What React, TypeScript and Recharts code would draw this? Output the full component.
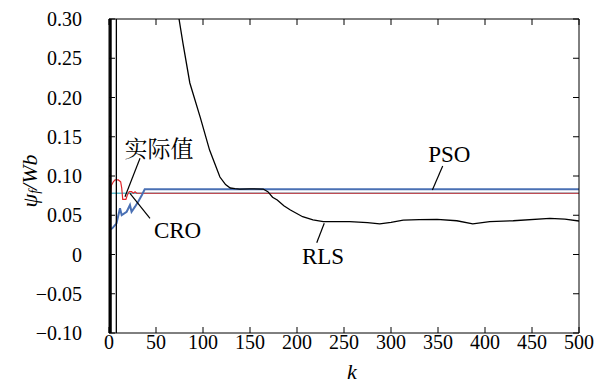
import React from 'react';
import { LineChart, Line, XAxis, YAxis, ReferenceLine, ReferenceDot } from 'recharts';

const FONT = 'Liberation Serif';
const CJK_FONT = 'Noto Serif CJK SC';

// tick values
const xTicks = [0, 50, 100, 150, 200, 250, 300, 350, 400, 450, 500];
const yTicks = [-0.1, -0.05, 0, 0.05, 0.1, 0.15, 0.2, 0.25, 0.3];

// 实际值 (actual value)
const actualK = [0, 500];
const actualV = [0.078, 0.078];

// PSO estimate
const psoK = [0, 3.5, 8, 11.7, 13.5, 18.8, 22.3, 24, 27.7, 31, 35, 38, 500];
const psoV = [0.031, 0.0334, 0.0397, 0.0589, 0.0503, 0.0545, 0.063, 0.0545, 0.0609, 0.0673, 0.0758, 0.0831, 0.0831];

// CRO estimate
const croK = [0, 0.8, 2.5, 4.6, 6.4, 9.9, 12.4, 13.5, 14.6, 18, 19.5, 21.6, 24, 25.9, 27.7, 29.5, 500];
const croV = [0.005, 0.065, 0.088, 0.0927, 0.095, 0.095, 0.0927, 0.085, 0.0703, 0.0703, 0.0758, 0.08, 0.08, 0.078, 0.08, 0.078, 0.078];

// RLS estimate
const rlsK = [0, 0.5, 1.0, 1.5, 2.0, 2.5, 7.6, 8.0, 20, 50, 74.5, 78.7, 86, 97, 107, 118, 124, 129, 134, 139, 150, 164, 169, 174, 179, 186, 193, 206, 217, 228, 256, 275, 288, 300, 313, 330, 349, 370, 387, 405, 430, 469, 485, 500];
const rlsV = [0.0, -1.5, 1.5, -1.5, 1.5, -1.5, -1.5, 1.5, 1.2, 0.6, 0.3, 0.269, 0.2185, 0.175, 0.133, 0.0987, 0.089, 0.0847, 0.0838, 0.0834, 0.0836, 0.0834, 0.08, 0.073, 0.0694, 0.062, 0.0567, 0.0481, 0.044, 0.0418, 0.0418, 0.0405, 0.0389, 0.041, 0.0439, 0.0445, 0.0448, 0.043, 0.0389, 0.0418, 0.043, 0.046, 0.045, 0.0427];

// annotation labels with leader lines (data coordinates)
const noteText = ['实际值', 'CRO', 'PSO', 'RLS'];
const noteFont = [CJK_FONT, FONT, FONT, FONT];
const noteAt = [[53.3, 0.1363], [72.9, 0.0312], [362, 0.128], [227.7, -0.002]];
const noteFrom = [[33, 0.1226], [43.6, 0.0461], [355, 0.1127], [229, 0.0397]];
const noteTo = [[17, 0.0736], [22.3, 0.078], [344, 0.0822], [221, 0.015]];

const toRows = (ks: number[], vs: number[]) => ks.map((k, i) => ({ k, v: vs[i] }));

const fmtY = (v: number) => (v === 0 ? '0' : (v < 0 ? '\u2212' : '') + Math.abs(v).toFixed(2));

const YLabel = (props: any) => {
  const vb = props.viewBox || {};
  const cx = vb.x + 29;
  const cy = vb.y + vb.height / 2 + 5;
  return (
    <text
      x={cx}
      y={cy}
      transform={`rotate(-90 ${cx} ${cy})`}
      textAnchor="middle"
      dominantBaseline="central"
      fontFamily={FONT}
      fontStyle="italic"
      fontSize={22}
      fill="#000"
    >
      <tspan>ψ</tspan>
      <tspan dy={5} fontSize={14}>f</tspan>
      <tspan dy={-5}>/Wb</tspan>
    </text>
  );
};

const NoteLabel = (props: any) => {
  const vb = props.viewBox || {};
  const cx = vb.x + (vb.width || 0) / 2;
  const cy = vb.y + (vb.height || 0) / 2;
  return (
    <text x={cx} y={cy} textAnchor="middle" dominantBaseline="central" fontFamily={props.font} fontSize={23} fill="#000">
      {props.value}
    </text>
  );
};

const emptyTick = () => <g />;

export default function App() {
  const tickStyle = { fill: '#000', fontSize: 20, fontFamily: FONT };
  return (
    <div style={{ position: 'absolute', left: 0, top: 0, background: '#fff' }}>
      <LineChart width={615} height={383} margin={{ top: 18, right: 35, bottom: 0, left: 0 }}>
        <XAxis
          xAxisId="b"
          type="number"
          dataKey="k"
          domain={[0, 500]}
          ticks={xTicks}
          interval={0}
          allowDataOverflow
          orientation="bottom"
          height={50}
          tickSize={-6}
          tickMargin={8}
          stroke="#000"
          tick={tickStyle}
          label={{ value: 'k', position: 'insideBottom', offset: 4, dx: 8, fill: '#000', fontSize: 22, fontStyle: 'italic', fontFamily: FONT }}
        />
        <XAxis
          xAxisId="t"
          type="number"
          dataKey="k"
          domain={[0, 500]}
          ticks={xTicks}
          interval={0}
          allowDataOverflow
          orientation="top"
          height={1}
          tickSize={-6}
          stroke="#000"
          tick={emptyTick}
        />
        <YAxis
          yAxisId="l"
          type="number"
          domain={[-0.1, 0.3]}
          ticks={yTicks}
          interval={0}
          allowDataOverflow
          width={109}
          tickSize={-6}
          tickMargin={33}
          stroke="#000"
          tick={tickStyle}
          tickFormatter={fmtY}
          label={<YLabel />}
        />
        <YAxis
          yAxisId="r"
          orientation="right"
          type="number"
          domain={[-0.1, 0.3]}
          ticks={yTicks}
          interval={0}
          allowDataOverflow
          width={1}
          tickSize={-6}
          stroke="#000"
          tick={emptyTick}
        />
        <Line xAxisId="b" yAxisId="l" data={toRows(actualK, actualV)} dataKey="v" stroke="#5fc0d2" strokeWidth={1.4} dot={false} isAnimationActive={false} type="linear" />
        <Line xAxisId="b" yAxisId="l" data={toRows(croK, croV)} dataKey="v" stroke="#e0262b" strokeWidth={1.2} dot={false} isAnimationActive={false} type="linear" />
        <Line xAxisId="b" yAxisId="l" data={toRows(psoK, psoV)} dataKey="v" stroke="#4a70b4" strokeWidth={2} dot={false} isAnimationActive={false} type="linear" />
        <Line xAxisId="b" yAxisId="l" data={toRows(rlsK, rlsV)} dataKey="v" stroke="#000" strokeWidth={1.3} dot={false} isAnimationActive={false} type="linear" />
        {noteText.map((t, i) => (
          <ReferenceLine
            key={'ln' + i}
            xAxisId="b"
            yAxisId="l"
            segment={[{ x: noteFrom[i][0], y: noteFrom[i][1] }, { x: noteTo[i][0], y: noteTo[i][1] }]}
            stroke="#000"
            strokeWidth={1.2}
          />
        ))}
        {noteText.map((t, i) => (
          <ReferenceDot
            key={'tx' + i}
            xAxisId="b"
            yAxisId="l"
            x={noteAt[i][0]}
            y={noteAt[i][1]}
            r={0}
            fill="none"
            stroke="none"
            label={<NoteLabel value={t} font={noteFont[i]} />}
          />
        ))}
      </LineChart>
    </div>
  );
}
